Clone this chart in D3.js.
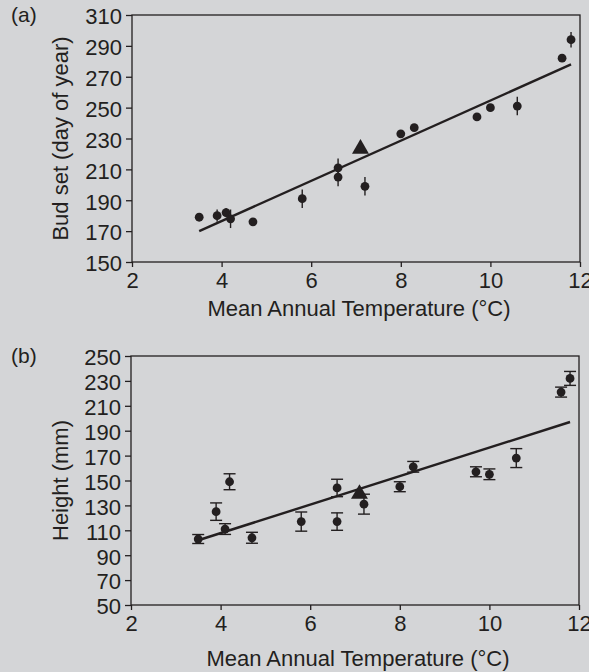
<!DOCTYPE html>
<html>
<head>
<meta charset="utf-8">
<script src="https://cdn.jsdelivr.net/npm/d3@7"></script>
<style>
  body { margin: 0; background: #d4d5d7; }
  svg { display: block; }
  text { font-family: "Liberation Sans", Arial, sans-serif; fill: #231f20; }
</style>
</head>
<body>
<svg id="chart" width="589" height="672"></svg>
<script>
// panel (a): bud set
var budTemp = [3.5, 3.9, 4.1, 4.2, 4.7, 5.8, 6.6, 6.6, 7.2, 8.0, 8.3, 9.7, 10.0, 10.6, 11.6, 11.8];
var budDay  = [179, 180, 182, 178, 176, 191, 211, 205, 199, 233, 237, 244, 250, 251, 282, 294];
var budErr  = [1, 4, 3, 6, 1, 6, 6, 6, 6, 1, 1, 1, 2, 6, 1, 5];
var budRef  = [7.1, 224];            // triangle
var budFit  = [[3.5, 170], [11.8, 278]];
var budTicks = [150, 170, 190, 210, 230, 250, 270, 290, 310];

// panel (b): height
var htTemp = [3.5, 3.9, 4.1, 4.2, 4.7, 5.8, 6.6, 6.6, 7.2, 8.0, 8.3, 9.7, 10.0, 10.6, 11.6, 11.8];
var htVal  = [103, 125, 111, 149, 104, 117, 144, 117, 131, 145, 161, 157, 155, 168, 221, 232];
var htErr  = [3.6, 7, 4.3, 6.4, 4.4, 7.7, 7, 7, 8, 4, 4.3, 4, 4.3, 7.6, 4, 5.6];
var htRef  = [7.1, 140];
var htFit  = [[3.5, 102], [11.8, 197]];
var htTicks = [50, 70, 90, 110, 130, 150, 170, 190, 210, 230, 250];

var xTicks = [2, 4, 6, 8, 10, 12];
var ink = "#231f20";
var fs = 22;

var svg = d3.select("#chart");

function panel(opt) {
  var g = svg.append("g");
  var x = d3.scaleLinear().domain([2, 12]).range([opt.left, opt.right]);
  var y = d3.scaleLinear().domain(opt.yDomain).range([opt.bottom, opt.top]);

  // frame
  g.append("rect")
    .attr("x", opt.left).attr("y", opt.top)
    .attr("width", opt.right - opt.left).attr("height", opt.bottom - opt.top)
    .attr("fill", "none").attr("stroke", ink).attr("stroke-width", 1.3);

  var ya = g.append("g").attr("transform", "translate(" + opt.left + ",0)")
    .call(d3.axisLeft(y).tickValues(opt.yTicks).tickSize(6).tickPadding(4).tickFormat(d3.format("d")));
  var xa = g.append("g").attr("transform", "translate(0," + opt.bottom + ")")
    .call(d3.axisBottom(x).tickValues(xTicks).tickSize(5).tickPadding(5).tickFormat(d3.format("d")));
  [ya, xa].forEach(function(a) {
    a.select(".domain").remove();
    a.selectAll("line").attr("stroke", ink).attr("stroke-width", 1.3);
    a.selectAll("text").attr("font-size", fs).attr("font-family", null).attr("fill", ink);
  });
  ya.selectAll("text").attr("dy", "0.4em");
  xa.selectAll("text").attr("dy", "0.71em");

  g.append("text").attr("x", 11).attr("y", opt.top + 7)
    .attr("font-size", 21).text(opt.tag);

  g.append("text")
    .attr("transform", "translate(" + opt.yLabelX + "," + ((opt.top + opt.bottom) / 2) + ") rotate(-90)")
    .attr("text-anchor", "middle").attr("font-size", fs).text(opt.yLabel);

  g.append("text").attr("x", (opt.left + opt.right) / 2 + 3).attr("y", opt.xLabelY)
    .attr("text-anchor", "middle").attr("font-size", fs)
    .text("Mean Annual Temperature (\u00B0C)");

  // regression line
  g.append("line")
    .attr("x1", x(opt.fit[0][0])).attr("y1", y(opt.fit[0][1]))
    .attr("x2", x(opt.fit[1][0])).attr("y2", y(opt.fit[1][1]))
    .attr("stroke", ink).attr("stroke-width", 2.4);

  var pts = opt.xs.map(function(t, i) { return {t: t, v: opt.ys[i], e: opt.errs[i]}; });

  g.selectAll(".err").data(pts).enter().append("line")
    .attr("x1", d => x(d.t)).attr("x2", d => x(d.t))
    .attr("y1", d => y(d.v - d.e)).attr("y2", d => y(d.v + d.e))
    .attr("stroke", ink).attr("stroke-width", 1.4);

  if (opt.caps) {
    [-1, 1].forEach(function(s) {
      g.selectAll(".cap" + s).data(pts).enter().append("line")
        .attr("x1", d => x(d.t) - 6).attr("x2", d => x(d.t) + 6)
        .attr("y1", d => y(d.v + s * d.e)).attr("y2", d => y(d.v + s * d.e))
        .attr("stroke", ink).attr("stroke-width", 1.4);
    });
  }

  g.selectAll(".dot").data(pts).enter().append("circle")
    .attr("cx", d => x(d.t)).attr("cy", d => y(d.v)).attr("r", 4.4)
    .attr("fill", ink);

  g.append("path")
    .attr("d", d3.symbol().type(d3.symbolTriangle).size(125)())
    .attr("transform", "translate(" + x(opt.ref[0]) + "," + (y(opt.ref[1]) + 1) + ")")
    .attr("fill", ink);
}

panel({
  tag: "(a)", left: 132, right: 580, top: 15, bottom: 262,
  yDomain: [150, 310], yTicks: budTicks, yLabel: "Bud set (day of year)", yLabelX: 68,
  xLabelY: 316, xs: budTemp, ys: budDay, errs: budErr, ref: budRef, fit: budFit, caps: false
});

panel({
  tag: "(b)", left: 131, right: 579, top: 356, bottom: 605,
  yDomain: [50, 250], yTicks: htTicks, yLabel: "Height (mm)", yLabelX: 68,
  xLabelY: 666, xs: htTemp, ys: htVal, errs: htErr, ref: htRef, fit: htFit, caps: true
});
</script>
</body>
</html>
